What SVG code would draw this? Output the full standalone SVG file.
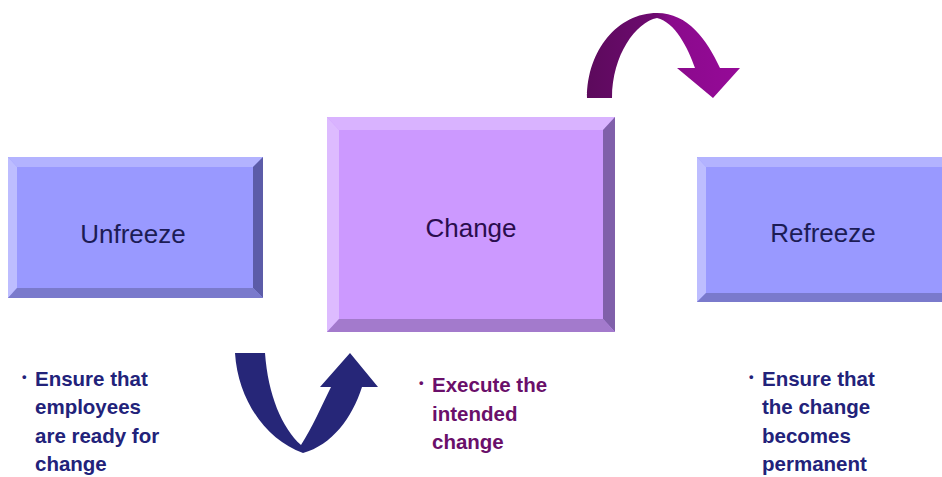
<svg xmlns="http://www.w3.org/2000/svg" width="942" height="477" viewBox="0 0 942 477">
<style>
.lbl{font-family:"Liberation Sans",Arial,sans-serif;font-size:26px;text-anchor:middle}
.note{font-family:"Liberation Sans",Arial,sans-serif;font-size:20.5px;font-weight:bold}
.bul{font-family:"Liberation Sans",Arial,sans-serif;font-size:13px;font-weight:bold}
.blue{fill:#22227a}
.purp{fill:#6a0f6a}
</style>
<defs>
<linearGradient id="gTop" x1="0" y1="0" x2="1" y2="0">
<stop offset="0" stop-color="#5c0a5c"/>
<stop offset="0.45" stop-color="#6e0a70"/>
<stop offset="0.55" stop-color="#8a0a8c"/>
<stop offset="1" stop-color="#960a98"/>
</linearGradient>
</defs>
<rect width="942" height="477" fill="#ffffff"/>
<g id="unfreeze">
<rect x="8" y="157" width="255" height="141" fill="#9999ff"/>
<polygon points="8,157 263,157 253,167 17,167" fill="#b3b3ff"/>
<polygon points="8,157 17,167 17,288 8,298" fill="#bdbdff"/>
<polygon points="263,157 263,298 253,288 253,167" fill="#5c5ca8"/>
<polygon points="8,298 263,298 253,288 17,288" fill="#7a7acc"/>
<text class="lbl" x="133" y="243" fill="#1c1c55">Unfreeze</text>
</g>
<g id="change">
<rect x="327" y="117" width="288" height="215" fill="#cc99ff"/>
<polygon points="327,117 615,117 603,130 339,130" fill="#d9b3ff"/>
<polygon points="327,117 339,130 339,319 327,332" fill="#ddbbff"/>
<polygon points="615,117 615,332 603,319 603,130" fill="#8060aa"/>
<polygon points="327,332 615,332 603,319 339,319" fill="#a37acc"/>
<text class="lbl" x="471" y="237" fill="#2a0d4d">Change</text>
</g>
<g id="refreeze">
<rect x="697" y="157" width="260" height="145" fill="#9999ff"/>
<polygon points="697,157 957,157 957,167 706,167" fill="#b3b3ff"/>
<polygon points="697,157 706,167 706,293 697,302" fill="#bdbdff"/>
<polygon points="697,302 957,302 957,293 706,293" fill="#7a7acc"/>
<text class="lbl" x="823" y="242" fill="#1c1c55">Refreeze</text>
</g>
<g id="connectors">
<path d="M587,98 C587,50 618,13 657,13 C688,13 707,40 720,68 L740,68 L713,98 L677,68 L695,68 C688,48 675,22 657,18 C636,22 612,55 612,98 Z" fill="url(#gTop)"/>
<path d="M235,353 L265,353 C268,395 282,428 301,445 C312,428 322,405 331,387 L320,387 L350,353 L378,387 L362,387 C352,418 332,445 303,453 C266,440 238,400 235,353 Z" fill="#262678"/>
</g>
<g id="note-unfreeze">
<text class="bul blue" x="22" y="381">•</text>
<text class="note blue"><tspan x="35" y="386">Ensure that</tspan><tspan x="35" y="414">employees</tspan><tspan x="35" y="443">are ready for</tspan><tspan x="35" y="471">change</tspan></text>
</g>
<g id="note-change">
<text class="bul purp" x="419" y="387">•</text>
<text class="note purp"><tspan x="432" y="392">Execute the</tspan><tspan x="432" y="421">intended</tspan><tspan x="432" y="449">change</tspan></text>
</g>
<g id="note-refreeze">
<text class="bul blue" x="749" y="381">•</text>
<text class="note blue"><tspan x="762" y="386">Ensure that</tspan><tspan x="762" y="414">the change</tspan><tspan x="762" y="443">becomes</tspan><tspan x="762" y="471">permanent</tspan></text>
</g>
</svg>
